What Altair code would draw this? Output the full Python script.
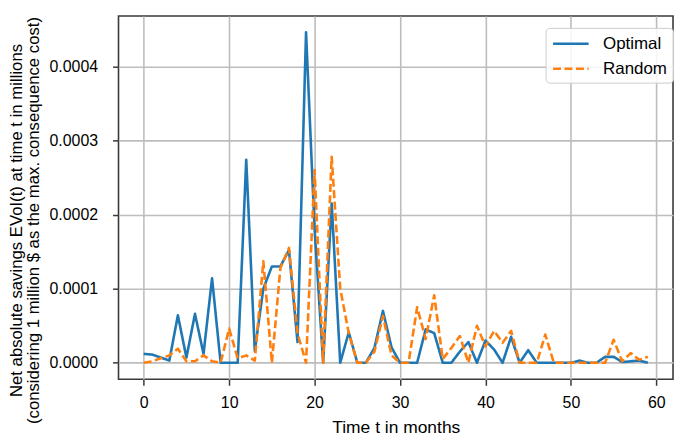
import altair as alt
import pandas as pd

months = list(range(60))
series = ["Optimal", "Random"]

optimal = [
    0.000012, 0.000011, 0.000007, 0.000003, 0.000064, 0.000007, 0.000066, 0.000012, 0.000114, 0.0,
    0.0, 0.0, 0.000274, 0.000016, 0.000100, 0.000130, 0.000130, 0.000152, 0.000028, 0.000446,
    0.000180, 0.0, 0.000215, 0.0, 0.000041, 0.0, 0.0, 0.000020, 0.000070, 0.000021,
    0.0, 0.0, 0.0, 0.000045, 0.000040, 0.0, 0.0, 0.000015, 0.000028, 0.0,
    0.000030, 0.000018, 0.0, 0.000035, 0.0, 0.000017, 0.0, 0.0, 0.0, 0.0,
    0.0, 0.000003, 0.0, 0.0, 0.000008, 0.000008, 0.000001, 0.000002, 0.000003, 0.0,
]

random_ = [
    0.0, 0.000002, 0.000006, 0.000010, 0.000019, 0.000002, 0.000002, 0.000010, 0.000002, 0.0,
    0.000046, 0.000006, 0.000010, 0.000003, 0.000137, 0.0, 0.000128, 0.000155, 0.000040, 0.0,
    0.000260, 0.0, 0.000278, 0.000100, 0.000040, 0.0, 0.0, 0.000015, 0.000063, 0.000010,
    0.0, 0.0, 0.000075, 0.000032, 0.000091, 0.000005, 0.000020, 0.000036, 0.0, 0.000050,
    0.000022, 0.000043, 0.000027, 0.000043, 0.0, 0.0, 0.0, 0.000038, 0.0, 0.0,
    0.0, 0.0, 0.0, 0.0, 0.0, 0.000031, 0.000002, 0.000013, 0.000004, 0.000008,
]

x_ticks = [0, 10, 20, 30, 40, 50, 60]
y_ticks = [0.0, 0.0001, 0.0002, 0.0003, 0.0004]

df = pd.DataFrame({
    "t": months + months,
    "v": optimal + random_,
    "s": [series[0]] * len(months) + [series[1]] * len(months),
})

FONT = "Liberation Sans"

legend_cfg = dict(
    title=None, orient="none", legendX=429, legendY=12,
    symbolType="M-1,0H3.2", symbolSize=289, symbolStrokeWidth=2.6,
    labelFontSize=17, labelOffset=31.7, rowPadding=7, padding=6,
    strokeColor="#cccccc", fillColor="rgba(255,255,255,0.85)",
    cornerRadius=4, labelFont=FONT, labelColor="#000000",
    labelExpr="datum.label + '   '",
)

chart = alt.Chart(df).mark_line(strokeWidth=2.6, strokeJoin="round").encode(
    x=alt.X(
        "t:Q",
        scale=alt.Scale(domain=[-2.95, 61.95], nice=False, zero=False),
        axis=alt.Axis(
            values=x_ticks, format="d", title="Time t in months",
            labelPadding=9, titleY=39, titleBaseline="top",
        ),
    ),
    y=alt.Y(
        "v:Q",
        scale=alt.Scale(domain=[-0.0000223, 0.000468], nice=False, zero=False),
        axis=alt.Axis(
            values=y_ticks, format=".4f",
            title=["Net absolute savings EVoI(t) at time t in millions",
                   "(considering 1 million $ as the max. consequence cost)"],
            labelPadding=15, titleX=-93, titleY=205, titleAngle=270,
            titleBaseline="bottom", titleAlign="center", titleLineHeight=17,
            titleFontSize=16.8,
        ),
    ),
    color=alt.Color(
        "s:N",
        scale=alt.Scale(domain=series, range=["#1f77b4", "#ff7f0e"]),
        legend=alt.Legend(**legend_cfg),
    ),
    strokeDash=alt.StrokeDash(
        "s:N",
        scale=alt.Scale(domain=series, range=[[1, 0], [8, 3.5]]),
        legend=alt.Legend(**legend_cfg),
    ),
).properties(
    width=557,
    height=365,
    autosize=alt.AutoSizeParams(type="none"),
    padding={"left": 111, "top": 7, "right": 4, "bottom": 57},
).configure_view(
    stroke="#3a3a3a", strokeWidth=1.6,
).configure_axis(
    domain=False,
    grid=True, gridColor="#bdbdbd", gridWidth=1.6,
    tickColor="#3a3a3a", tickWidth=1.5, tickSize=6,
    labelFont=FONT, labelFontSize=16, labelColor="#000000",
    titleFont=FONT, titleFontSize=17.5, titleColor="#000000", titleFontWeight="normal",
)

chart.save("out.html", embed_options={"renderer": "svg", "actions": False})
